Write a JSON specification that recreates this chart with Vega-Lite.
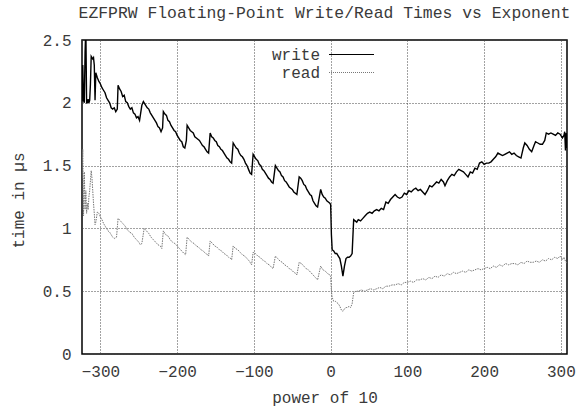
{
  "$schema": "https://vega.github.io/schema/vega-lite/v6.json",
  "width": 485,
  "height": 314,
  "autosize": "none",
  "padding": {"left": 82, "top": 40, "right": 12, "bottom": 54},
  "background": "white",
  "title": {
    "text": "EZFPRW Floating-Point Write/Read Times vs Exponent",
    "font": "Liberation Mono",
    "fontSize": 16.4,
    "fontWeight": "normal",
    "color": "#3a3a3a",
    "offset": 11,
    "anchor": "middle"
  },
  "config": {
    "view": {"stroke": "black", "strokeWidth": 1.5},
    "font": "Liberation Mono"
  },
  "datasets": {
    "write": [
      {"e":-324,"t":2.01},{"e":-323,"t":2.30},{"e":-322,"t":2.02},{"e":-321,"t":2.00},{"e":-320,"t":2.40},{"e":-319,"t":2.60},{"e":-318,"t":2.00},{"e":-317,"t":2.00},{"e":-316,"t":2.03},{"e":-315,"t":2.00},{"e":-314,"t":2.02},{"e":-313,"t":2.15},{"e":-312,"t":2.37},{"e":-311,"t":2.36},{"e":-310,"t":2.35},{"e":-309,"t":2.36},{"e":-308,"t":2.30},{"e":-307,"t":2.02},{"e":-306,"t":2.24},{"e":-304,"t":2.20},{"e":-302,"t":2.17},{"e":-300,"t":2.15},{"e":-298,"t":2.12},{"e":-296,"t":2.10},{"e":-294,"t":2.08},{"e":-292,"t":2.04},{"e":-290,"t":2.02},{"e":-288,"t":2.00},{"e":-286,"t":1.96},{"e":-284,"t":1.95},{"e":-282,"t":1.96},{"e":-280,"t":1.93},{"e":-278,"t":1.95},
      {"e":-277,"t":2.14},{"e":-275,"t":2.11},{"e":-273,"t":2.09},{"e":-271,"t":2.05},{"e":-269,"t":2.06},{"e":-267,"t":2.01},{"e":-265,"t":2.00},{"e":-263,"t":1.97},{"e":-261,"t":1.95},{"e":-259,"t":1.96},{"e":-257,"t":1.92},{"e":-255,"t":1.91},{"e":-253,"t":1.88},{"e":-251,"t":1.89},{"e":-249,"t":1.86},
      {"e":-246,"t":1.98},{"e":-244,"t":2.01},{"e":-241,"t":1.98},{"e":-239,"t":1.96},{"e":-237,"t":1.95},{"e":-235,"t":1.92},{"e":-233,"t":1.90},{"e":-231,"t":1.88},{"e":-229,"t":1.86},{"e":-227,"t":1.84},{"e":-225,"t":1.81},{"e":-223,"t":1.80},{"e":-221,"t":1.77},{"e":-219,"t":1.80},
      {"e":-218,"t":1.93},{"e":-216,"t":1.91},{"e":-214,"t":1.90},{"e":-212,"t":1.86},{"e":-210,"t":1.85},{"e":-208,"t":1.82},{"e":-206,"t":1.80},{"e":-204,"t":1.78},{"e":-202,"t":1.77},{"e":-200,"t":1.74},{"e":-198,"t":1.72},{"e":-196,"t":1.70},{"e":-194,"t":1.69},{"e":-192,"t":1.65},{"e":-190,"t":1.64},{"e":-188,"t":1.70},
      {"e":-187,"t":1.82},{"e":-185,"t":1.80},{"e":-183,"t":1.78},{"e":-181,"t":1.77},{"e":-179,"t":1.76},{"e":-177,"t":1.73},{"e":-175,"t":1.72},{"e":-173,"t":1.71},{"e":-171,"t":1.70},{"e":-169,"t":1.68},{"e":-167,"t":1.66},{"e":-165,"t":1.65},{"e":-163,"t":1.63},{"e":-161,"t":1.61},{"e":-159,"t":1.60},
      {"e":-157,"t":1.76},{"e":-155,"t":1.73},{"e":-153,"t":1.72},{"e":-151,"t":1.70},{"e":-149,"t":1.69},{"e":-147,"t":1.66},{"e":-145,"t":1.65},{"e":-143,"t":1.63},{"e":-141,"t":1.62},{"e":-139,"t":1.60},{"e":-137,"t":1.58},{"e":-135,"t":1.56},{"e":-133,"t":1.55},{"e":-131,"t":1.53},{"e":-129,"t":1.52},
      {"e":-127,"t":1.68},{"e":-125,"t":1.66},{"e":-123,"t":1.64},{"e":-121,"t":1.63},{"e":-119,"t":1.60},{"e":-117,"t":1.58},{"e":-115,"t":1.57},{"e":-113,"t":1.55},{"e":-111,"t":1.52},{"e":-109,"t":1.50},{"e":-107,"t":1.47},{"e":-105,"t":1.44},{"e":-103,"t":1.43},
      {"e":-101,"t":1.59},{"e":-99,"t":1.57},{"e":-97,"t":1.55},{"e":-95,"t":1.54},{"e":-93,"t":1.51},{"e":-91,"t":1.50},{"e":-89,"t":1.47},{"e":-87,"t":1.46},{"e":-85,"t":1.44},{"e":-83,"t":1.42},{"e":-81,"t":1.40},{"e":-79,"t":1.39},{"e":-77,"t":1.37},{"e":-75,"t":1.36},
      {"e":-72,"t":1.50},{"e":-70,"t":1.48},{"e":-68,"t":1.46},{"e":-66,"t":1.45},{"e":-64,"t":1.42},{"e":-62,"t":1.41},{"e":-60,"t":1.38},{"e":-58,"t":1.37},{"e":-56,"t":1.35},{"e":-54,"t":1.33},{"e":-52,"t":1.32},{"e":-50,"t":1.31},{"e":-48,"t":1.29},{"e":-46,"t":1.28},{"e":-44,"t":1.27},
      {"e":-41,"t":1.41},{"e":-39,"t":1.40},{"e":-37,"t":1.38},{"e":-35,"t":1.35},{"e":-33,"t":1.34},{"e":-31,"t":1.31},{"e":-29,"t":1.29},{"e":-27,"t":1.27},{"e":-25,"t":1.26},{"e":-23,"t":1.22},{"e":-21,"t":1.20},{"e":-19,"t":1.18},{"e":-17,"t":1.17},
      {"e":-13,"t":1.31},{"e":-11,"t":1.27},{"e":-9,"t":1.25},{"e":-7,"t":1.24},{"e":-5,"t":1.22},{"e":-3,"t":1.21},{"e":-1,"t":1.20},{"e":0,"t":1.19},
      {"e":1,"t":0.95},{"e":2,"t":0.83},{"e":4,"t":0.82},{"e":6,"t":0.80},{"e":8,"t":0.80},{"e":10,"t":0.78},{"e":12,"t":0.76},{"e":14,"t":0.70},{"e":16,"t":0.62},{"e":18,"t":0.70},{"e":20,"t":0.76},{"e":22,"t":0.77},{"e":24,"t":0.77},{"e":26,"t":0.78},{"e":28,"t":0.80},
      {"e":30,"t":1.07},{"e":32,"t":1.06},{"e":34,"t":1.05},{"e":36,"t":1.07},{"e":39,"t":1.06},{"e":42,"t":1.08},{"e":45,"t":1.10},{"e":48,"t":1.12},{"e":51,"t":1.13},{"e":54,"t":1.12},{"e":57,"t":1.14},{"e":60,"t":1.15},{"e":63,"t":1.14},{"e":66,"t":1.16},{"e":69,"t":1.15},{"e":72,"t":1.21},{"e":75,"t":1.20},{"e":78,"t":1.23},{"e":81,"t":1.25},{"e":84,"t":1.27},{"e":87,"t":1.25},{"e":90,"t":1.24},{"e":93,"t":1.25},{"e":96,"t":1.28},{"e":99,"t":1.27},{"e":102,"t":1.30},{"e":105,"t":1.29},{"e":108,"t":1.31},{"e":111,"t":1.32},{"e":114,"t":1.30},{"e":117,"t":1.31},{"e":120,"t":1.29},{"e":123,"t":1.27},{"e":126,"t":1.30},{"e":129,"t":1.34},{"e":132,"t":1.33},{"e":135,"t":1.35},{"e":138,"t":1.37},{"e":141,"t":1.36},{"e":144,"t":1.39},{"e":147,"t":1.37},{"e":149,"t":1.34},{"e":152,"t":1.38},{"e":155,"t":1.41},{"e":158,"t":1.43},{"e":161,"t":1.42},{"e":164,"t":1.45},{"e":167,"t":1.47},{"e":170,"t":1.46},{"e":173,"t":1.45},{"e":176,"t":1.43},{"e":179,"t":1.41},{"e":182,"t":1.45},{"e":185,"t":1.44},{"e":188,"t":1.48},{"e":191,"t":1.47},{"e":194,"t":1.52},{"e":197,"t":1.53},{"e":200,"t":1.51},{"e":203,"t":1.52},{"e":206,"t":1.52},{"e":209,"t":1.53},{"e":212,"t":1.55},{"e":215,"t":1.57},{"e":218,"t":1.60},{"e":221,"t":1.59},{"e":224,"t":1.58},{"e":227,"t":1.59},{"e":230,"t":1.60},{"e":233,"t":1.61},{"e":236,"t":1.59},{"e":239,"t":1.60},{"e":242,"t":1.58},{"e":245,"t":1.57},{"e":248,"t":1.56},{"e":251,"t":1.64},{"e":253,"t":1.68},{"e":256,"t":1.66},{"e":259,"t":1.63},{"e":262,"t":1.61},{"e":265,"t":1.66},{"e":267,"t":1.69},{"e":270,"t":1.68},{"e":273,"t":1.67},{"e":276,"t":1.67},{"e":279,"t":1.70},{"e":281,"t":1.76},{"e":284,"t":1.75},{"e":287,"t":1.76},{"e":290,"t":1.75},{"e":293,"t":1.74},{"e":296,"t":1.76},{"e":299,"t":1.75},{"e":302,"t":1.72},{"e":304,"t":1.74},{"e":305,"t":1.77},{"e":306,"t":1.62},{"e":307,"t":1.76},{"e":308,"t":1.64}
    ],
    "read": [
      {"e":-324,"t":1.40},{"e":-323,"t":1.63},{"e":-322,"t":1.10},{"e":-321,"t":1.45},{"e":-320,"t":1.15},{"e":-319,"t":1.30},{"e":-318,"t":1.12},{"e":-317,"t":1.20},{"e":-316,"t":1.15},{"e":-315,"t":1.25},{"e":-314,"t":1.30},{"e":-313,"t":1.38},{"e":-312,"t":1.46},{"e":-311,"t":1.40},{"e":-310,"t":1.30},{"e":-309,"t":1.20},{"e":-308,"t":1.12},{"e":-307,"t":1.03},{"e":-306,"t":1.05},{"e":-304,"t":1.13},{"e":-302,"t":1.12},{"e":-300,"t":1.09},{"e":-298,"t":1.07},{"e":-296,"t":1.04},{"e":-294,"t":1.02},{"e":-292,"t":1.00},{"e":-290,"t":0.98},{"e":-288,"t":0.97},{"e":-286,"t":0.95},{"e":-284,"t":0.93},{"e":-282,"t":0.92},{"e":-279,"t":0.93},
      {"e":-277,"t":1.08},{"e":-274,"t":1.06},{"e":-271,"t":1.04},{"e":-268,"t":1.02},{"e":-265,"t":0.99},{"e":-262,"t":0.97},{"e":-259,"t":0.96},{"e":-256,"t":0.93},{"e":-253,"t":0.91},{"e":-250,"t":0.89},{"e":-248,"t":0.87},{"e":-246,"t":0.88},
      {"e":-243,"t":1.00},{"e":-240,"t":0.98},{"e":-237,"t":0.96},{"e":-234,"t":0.93},{"e":-231,"t":0.91},{"e":-228,"t":0.89},{"e":-225,"t":0.87},{"e":-222,"t":0.86},{"e":-220,"t":0.84},
      {"e":-218,"t":0.98},{"e":-215,"t":0.95},{"e":-212,"t":0.94},{"e":-209,"t":0.91},{"e":-206,"t":0.89},{"e":-203,"t":0.88},{"e":-200,"t":0.86},{"e":-197,"t":0.84},{"e":-194,"t":0.82},{"e":-191,"t":0.80},{"e":-189,"t":0.79},
      {"e":-187,"t":0.93},{"e":-184,"t":0.91},{"e":-181,"t":0.89},{"e":-178,"t":0.88},{"e":-175,"t":0.86},{"e":-172,"t":0.85},{"e":-169,"t":0.83},{"e":-166,"t":0.82},{"e":-163,"t":0.80},{"e":-160,"t":0.79},{"e":-159,"t":0.78},
      {"e":-157,"t":0.90},{"e":-154,"t":0.88},{"e":-151,"t":0.86},{"e":-148,"t":0.85},{"e":-145,"t":0.83},{"e":-142,"t":0.82},{"e":-139,"t":0.80},{"e":-136,"t":0.79},{"e":-133,"t":0.77},{"e":-130,"t":0.76},{"e":-129,"t":0.75},
      {"e":-127,"t":0.86},{"e":-124,"t":0.84},{"e":-121,"t":0.83},{"e":-118,"t":0.81},{"e":-115,"t":0.79},{"e":-112,"t":0.78},{"e":-109,"t":0.76},{"e":-106,"t":0.74},{"e":-103,"t":0.71},
      {"e":-101,"t":0.81},{"e":-98,"t":0.80},{"e":-95,"t":0.78},{"e":-92,"t":0.77},{"e":-89,"t":0.75},{"e":-86,"t":0.74},{"e":-83,"t":0.72},{"e":-80,"t":0.71},{"e":-77,"t":0.69},{"e":-75,"t":0.68},
      {"e":-72,"t":0.78},{"e":-69,"t":0.76},{"e":-66,"t":0.74},{"e":-63,"t":0.73},{"e":-60,"t":0.71},{"e":-57,"t":0.70},{"e":-54,"t":0.68},{"e":-51,"t":0.67},{"e":-48,"t":0.65},{"e":-45,"t":0.64},{"e":-44,"t":0.63},
      {"e":-41,"t":0.73},{"e":-38,"t":0.72},{"e":-35,"t":0.70},{"e":-32,"t":0.68},{"e":-29,"t":0.67},{"e":-26,"t":0.65},{"e":-23,"t":0.63},{"e":-20,"t":0.61},{"e":-17,"t":0.59},
      {"e":-13,"t":0.70},{"e":-10,"t":0.67},{"e":-7,"t":0.66},{"e":-4,"t":0.64},{"e":-1,"t":0.63},{"e":0,"t":0.62},
      {"e":1,"t":0.50},{"e":2,"t":0.45},{"e":4,"t":0.42},{"e":6,"t":0.42},{"e":8,"t":0.41},{"e":10,"t":0.40},{"e":12,"t":0.38},{"e":14,"t":0.35},{"e":16,"t":0.34},{"e":18,"t":0.36},{"e":20,"t":0.37},{"e":22,"t":0.37},{"e":24,"t":0.38},{"e":26,"t":0.37},{"e":28,"t":0.40},
      {"e":30,"t":0.49},{"e":33,"t":0.50},{"e":36,"t":0.50},{"e":40,"t":0.51},{"e":44,"t":0.50},{"e":48,"t":0.51},{"e":52,"t":0.52},{"e":56,"t":0.51},{"e":60,"t":0.52},{"e":64,"t":0.53},{"e":68,"t":0.52},{"e":72,"t":0.54},{"e":76,"t":0.54},{"e":80,"t":0.55},{"e":84,"t":0.55},{"e":88,"t":0.56},{"e":92,"t":0.55},{"e":96,"t":0.57},{"e":100,"t":0.57},{"e":104,"t":0.58},{"e":108,"t":0.57},{"e":112,"t":0.59},{"e":116,"t":0.59},{"e":120,"t":0.60},{"e":124,"t":0.59},{"e":128,"t":0.61},{"e":132,"t":0.60},{"e":136,"t":0.62},{"e":140,"t":0.61},{"e":144,"t":0.63},{"e":148,"t":0.62},{"e":152,"t":0.64},{"e":156,"t":0.63},{"e":160,"t":0.65},{"e":164,"t":0.64},{"e":168,"t":0.65},{"e":172,"t":0.66},{"e":176,"t":0.65},{"e":180,"t":0.67},{"e":184,"t":0.66},{"e":188,"t":0.67},{"e":192,"t":0.68},{"e":196,"t":0.67},{"e":200,"t":0.68},{"e":204,"t":0.69},{"e":208,"t":0.68},{"e":212,"t":0.70},{"e":216,"t":0.69},{"e":220,"t":0.71},{"e":224,"t":0.70},{"e":228,"t":0.72},{"e":232,"t":0.71},{"e":236,"t":0.72},{"e":240,"t":0.72},{"e":244,"t":0.71},{"e":248,"t":0.73},{"e":252,"t":0.72},{"e":256,"t":0.74},{"e":260,"t":0.73},{"e":264,"t":0.73},{"e":268,"t":0.74},{"e":272,"t":0.73},{"e":276,"t":0.75},{"e":280,"t":0.74},{"e":284,"t":0.76},{"e":288,"t":0.75},{"e":292,"t":0.77},{"e":296,"t":0.76},{"e":299,"t":0.78},{"e":302,"t":0.75},{"e":304,"t":0.77},{"e":306,"t":0.74},{"e":308,"t":0.72}
    ]
  },
  "layer": [
    {
      "data": {"name": "read"},
      "mark": {"type": "line", "strokeWidth": 1, "strokeDash": [1.5, 1], "clip": true, "interpolate": "linear"},
      "encoding": {
        "x": {"field": "e", "type": "quantitative"},
        "y": {"field": "t", "type": "quantitative"},
        "color": {"datum": "read"}
      }
    },
    {
      "data": {"name": "write"},
      "mark": {"type": "line", "strokeWidth": 1.4, "clip": true},
      "encoding": {
        "x": {
          "field": "e", "type": "quantitative",
          "scale": {"domain": [-324, 308], "nice": false, "zero": false},
          "axis": {
            "title": "power of 10",
            "values": [-300, -200, -100, 0, 100, 200, 300],
            "labelFont": "Liberation Mono", "labelFontSize": 16, "labelColor": "#3a3a3a",
            "titleFont": "Liberation Mono", "titleFontSize": 16, "titleFontWeight": "normal", "titleColor": "#3a3a3a",
            "titleBaseline": "middle", "titleY": 43,
            "labelBaseline": "middle", "labelPadding": 17,
            "ticks": false, "domain": false,
            "grid": true, "gridColor": "#444444", "gridDash": [1, 2], "gridWidth": 1
          }
        },
        "y": {
          "field": "t", "type": "quantitative",
          "scale": {"domain": [0, 2.5], "nice": false},
          "axis": {
            "title": "time in µs",
            "values": [0, 0.5, 1, 1.5, 2, 2.5],
            "format": "~g",
            "labelFont": "Liberation Mono", "labelFontSize": 16, "labelColor": "#3a3a3a",
            "labelPadding": 11,
            "titleFont": "Liberation Mono", "titleFontSize": 16, "titleFontWeight": "normal", "titleColor": "#3a3a3a",
            "titleX": -64, "titleY": 160, "titleBaseline": "middle", "titleAngle": -90,
            "ticks": false, "domain": false,
            "grid": true, "gridColor": "#444444", "gridDash": [1, 2], "gridWidth": 1
          }
        },
        "color": {
          "datum": "write",
          "type": "nominal",
          "scale": {"domain": ["write", "read"], "range": ["#000000", "#777777"]},
          "legend": {
            "orient": "none",
            "legendX": 246,
            "legendY": 6,
            "title": null,
            "padding": 0,
            "symbolType": "M-3,0H3",
            "symbolSize": 225,
            "symbolOffset": 15,
            "symbolStrokeWidth": 1.2,
            "rowPadding": 1,
            "labelAlign": "right",
            "labelOffset": -40,
            "labelFont": "Liberation Mono",
            "labelFontSize": 16,
            "labelColor": "#3a3a3a",
            "encode": {
              "symbols": {
                "update": {
                  "strokeDash": {"signal": "datum.value === 'read' ? [1, 1] : [1, 0]"}
                }
              }
            }
          }
        }
      }
    }
  ]
}
